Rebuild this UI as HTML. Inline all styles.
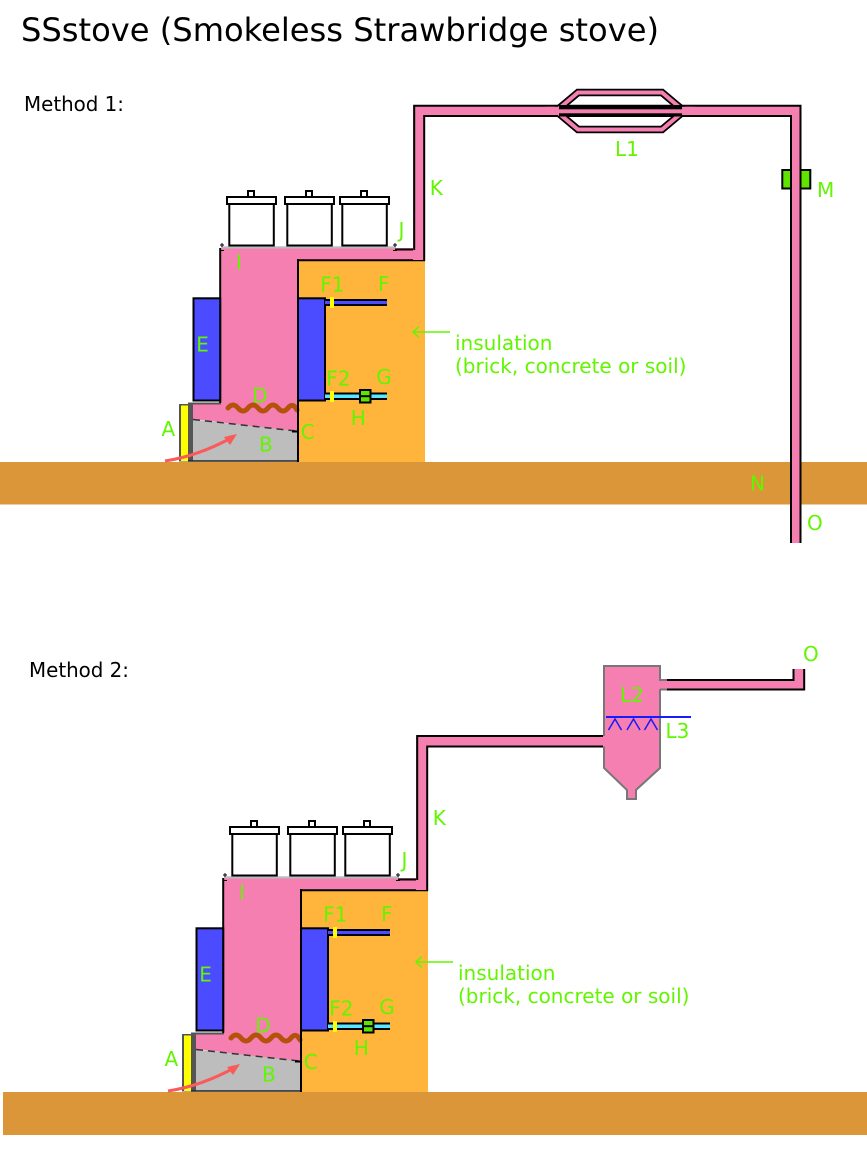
<!DOCTYPE html>
<html><head><meta charset="utf-8"><style>html,body{margin:0;padding:0;background:#fff}svg{display:block}</style></head>
<body>
<svg xmlns="http://www.w3.org/2000/svg" width="867" height="1176" viewBox="0 0 867 1176" font-family="'DejaVu Sans', 'Liberation Sans', sans-serif">
<rect width="867" height="1176" fill="#fff"/>
<text x="21" y="41" font-size="32" fill="#000" textLength="638" lengthAdjust="spacingAndGlyphs">SSstove (Smokeless Strawbridge stove)</text>
<text x="24" y="111" font-size="20" fill="#000" textLength="100" lengthAdjust="spacingAndGlyphs">Method 1:</text>
<text x="29" y="677" font-size="20" fill="#000" textLength="100" lengthAdjust="spacingAndGlyphs">Method 2:</text>

<!-- grounds -->
<rect x="0" y="462" width="867" height="42.5" fill="#dc963a"/>
<rect x="3" y="1092" width="864" height="43" fill="#dc963a"/>

<!-- ===== STOVE 1 ===== -->
<g>
<rect x="298" y="260" width="127" height="202" fill="#ffb43c"/>
<polygon fill="#f57fb0" points="220,248 415,248 415,260 298,260 298,432 193,419 193,403 220,403"/>
<polygon fill="#bdbdbd" points="193,419.5 297,431 297,461 193,461"/>
<line x1="193" y1="419.5" x2="296" y2="431" stroke="#333" stroke-width="1.5" stroke-dasharray="7 5"/>
<rect x="292" y="430.5" width="6" height="2" fill="#000"/>
<path d="M228,408 q5,-6 10,0 t10,0 t10,0 t10,0 t10,0 t10,0 t9,2" fill="none" stroke="#b4520c" stroke-width="5" stroke-linecap="round"/>
<rect x="179" y="404" width="14" height="57.5" fill="#555"/>
<rect x="181" y="405.5" width="7" height="55.5" fill="#ffff00"/>
<line x1="188" y1="403.5" x2="221" y2="403.5" stroke="#555" stroke-width="2"/>
<line x1="188" y1="461" x2="299" y2="461" stroke="#222" stroke-width="1.5"/>
<line x1="220.2" y1="248" x2="220.2" y2="403" stroke="#000" stroke-width="2"/>
<line x1="298" y1="259" x2="298" y2="462" stroke="#000" stroke-width="2"/>
<line x1="297" y1="260.2" x2="425" y2="260.2" stroke="#000" stroke-width="2"/>
<line x1="395" y1="249.5" x2="415" y2="249.5" stroke="#000" stroke-width="2"/>
<rect x="221" y="246.3" width="175" height="2.2" fill="#bbb"/>
<path d="M220,245 h4 M222,243 v4 M220,250.5 h4 M393,245 h4 M395,243 v4 M393,250.5 h4" stroke="#000" stroke-width="1"/>
<rect x="193.5" y="298.3" width="26.7" height="102.2" fill="#4b4bff" stroke="#000" stroke-width="2"/>
<rect x="298" y="298.3" width="27" height="102.2" fill="#4b4bff" stroke="#000" stroke-width="2"/>
<rect x="325" y="299" width="62" height="7" fill="#000"/><rect x="325" y="301" width="62" height="3" fill="#4b4bff"/><rect x="330" y="297" width="4" height="11" fill="#ff0"/>
<rect x="325" y="392.5" width="62" height="7.5" fill="#000"/><rect x="325" y="394.5" width="62" height="3.5" fill="#5ae6ff"/><rect x="330" y="391" width="4" height="11" fill="#ff0"/>
<rect x="360" y="390" width="10.5" height="12.5" fill="#5fe400" stroke="#000" stroke-width="2"/><line x1="360" y1="396.2" x2="370.5" y2="396.2" stroke="#000" stroke-width="2"/>
<path d="M165,461 Q198,456 231,438" fill="none" stroke="#fa5a5a" stroke-width="3"/>
<polygon points="237,434 224,437 230,445" fill="#fa5a5a"/>
<g fill="#fff" stroke="#000" stroke-width="2">
<rect x="229.3" y="204" width="44.5" height="41.5"/><rect x="227" y="197" width="49" height="7"/><rect x="248" y="191" width="6" height="6"/>
<rect x="287.3" y="204" width="44.5" height="41.5"/><rect x="285" y="197" width="49" height="7"/><rect x="306" y="191" width="6" height="6"/>
<rect x="342.3" y="204" width="44.5" height="41.5"/><rect x="340" y="197" width="49" height="7"/><rect x="361" y="191" width="6" height="6"/>
</g>
<line x1="413" y1="332" x2="450" y2="332" stroke="#62f500" stroke-width="1.5"/>
<polyline points="419,326.5 413,332 419,337.5" fill="none" stroke="#62f500" stroke-width="1.5"/>
<g font-size="20" fill="#62f500">
<text x="196.3" y="351.5">E</text>
<text x="252.3" y="402.7">D</text>
<text x="161.5" y="436">A</text>
<text x="259" y="451.7">B</text>
<text x="300.7" y="439">C</text>
<text x="326.3" y="385.7">F2</text>
<text x="376.3" y="384">G</text>
<text x="350.7" y="425">H</text>
<text x="320.3" y="291.7">F1</text>
<text x="378" y="291">F</text>
<text x="236" y="269.5">I</text>
<text x="398.5" y="237">J</text>
<text x="455" y="350">insulation</text>
<text x="455" y="373">(brick, concrete or soil)</text>
</g>
</g>

<!-- M box (under pipe) -->
<rect x="782.3" y="170" width="28" height="18.5" fill="#5fe400" stroke="#000" stroke-width="2"/>

<!-- main pipe method 1 -->
<polygon fill="#f57fb0" points="413,250 413,105.8 800.5,105.8 800.5,543 791,543 791,116 424.2,116 424.2,260 413,260"/>
<polyline fill="none" stroke="#000" stroke-width="2" points="414.2,250 414.2,105.8 800.5,105.8 800.5,543"/>
<polyline fill="none" stroke="#000" stroke-width="2" points="424.2,261 424.2,116 791,116 791,543"/>

<!-- L1 -->
<path d="M556,111 L578,92.5 L662,92.5 L684,111 L662,129.5 L578,129.5 Z" fill="none" stroke="#000" stroke-width="7.5"/>
<rect x="545" y="106.8" width="150" height="8.2" fill="#f57fb0"/>
<path d="M556,111 L578,92.5 L662,92.5 L684,111 L662,129.5 L578,129.5 Z" fill="none" stroke="#f57fb0" stroke-width="4"/>
<rect x="559" y="105" width="123" height="11.5" fill="#000"/>
<rect x="559" y="109.3" width="123" height="4" fill="#f57fb0"/>

<g font-size="20" fill="#62f500">
<text x="429.7" y="195">K</text>
<text x="817" y="197">M</text>
<text x="615" y="156">L1</text>
<text x="750" y="490.5">N</text>
<text x="807" y="530">O</text>
</g>

<!-- ===== STOVE 2 ===== -->
<g transform="translate(3,630)">
<rect x="298" y="260" width="127" height="202" fill="#ffb43c"/>
<polygon fill="#f57fb0" points="220,248 415,248 415,260 298,260 298,432 193,419 193,403 220,403"/>
<polygon fill="#bdbdbd" points="193,419.5 297,431 297,461 193,461"/>
<line x1="193" y1="419.5" x2="296" y2="431" stroke="#333" stroke-width="1.5" stroke-dasharray="7 5"/>
<rect x="292" y="430.5" width="6" height="2" fill="#000"/>
<path d="M228,408 q5,-6 10,0 t10,0 t10,0 t10,0 t10,0 t10,0 t9,2" fill="none" stroke="#b4520c" stroke-width="5" stroke-linecap="round"/>
<rect x="179" y="404" width="14" height="57.5" fill="#555"/>
<rect x="181" y="405.5" width="7" height="55.5" fill="#ffff00"/>
<line x1="188" y1="403.5" x2="221" y2="403.5" stroke="#555" stroke-width="2"/>
<line x1="188" y1="461" x2="299" y2="461" stroke="#222" stroke-width="1.5"/>
<line x1="220.2" y1="248" x2="220.2" y2="403" stroke="#000" stroke-width="2"/>
<line x1="298" y1="259" x2="298" y2="462" stroke="#000" stroke-width="2"/>
<line x1="297" y1="260.2" x2="425" y2="260.2" stroke="#000" stroke-width="2"/>
<line x1="395" y1="249.5" x2="415" y2="249.5" stroke="#000" stroke-width="2"/>
<rect x="221" y="246.3" width="175" height="2.2" fill="#bbb"/>
<path d="M220,245 h4 M222,243 v4 M220,250.5 h4 M393,245 h4 M395,243 v4 M393,250.5 h4" stroke="#000" stroke-width="1"/>
<rect x="193.5" y="298.3" width="26.7" height="102.2" fill="#4b4bff" stroke="#000" stroke-width="2"/>
<rect x="298" y="298.3" width="27" height="102.2" fill="#4b4bff" stroke="#000" stroke-width="2"/>
<rect x="325" y="299" width="62" height="7" fill="#000"/><rect x="325" y="301" width="62" height="3" fill="#4b4bff"/><rect x="330" y="297" width="4" height="11" fill="#ff0"/>
<rect x="325" y="392.5" width="62" height="7.5" fill="#000"/><rect x="325" y="394.5" width="62" height="3.5" fill="#5ae6ff"/><rect x="330" y="391" width="4" height="11" fill="#ff0"/>
<rect x="360" y="390" width="10.5" height="12.5" fill="#5fe400" stroke="#000" stroke-width="2"/><line x1="360" y1="396.2" x2="370.5" y2="396.2" stroke="#000" stroke-width="2"/>
<path d="M165,461 Q198,456 231,438" fill="none" stroke="#fa5a5a" stroke-width="3"/>
<polygon points="237,434 224,437 230,445" fill="#fa5a5a"/>
<g fill="#fff" stroke="#000" stroke-width="2">
<rect x="229.3" y="204" width="44.5" height="41.5"/><rect x="227" y="197" width="49" height="7"/><rect x="248" y="191" width="6" height="6"/>
<rect x="287.3" y="204" width="44.5" height="41.5"/><rect x="285" y="197" width="49" height="7"/><rect x="306" y="191" width="6" height="6"/>
<rect x="342.3" y="204" width="44.5" height="41.5"/><rect x="340" y="197" width="49" height="7"/><rect x="361" y="191" width="6" height="6"/>
</g>
<line x1="413" y1="332" x2="450" y2="332" stroke="#62f500" stroke-width="1.5"/>
<polyline points="419,326.5 413,332 419,337.5" fill="none" stroke="#62f500" stroke-width="1.5"/>
<g font-size="20" fill="#62f500">
<text x="196.3" y="351.5">E</text>
<text x="252.3" y="402.7">D</text>
<text x="161.5" y="436">A</text>
<text x="259" y="451.7">B</text>
<text x="300.7" y="439">C</text>
<text x="326.3" y="385.7">F2</text>
<text x="376.3" y="384">G</text>
<text x="350.7" y="425">H</text>
<text x="320.3" y="291.7">F1</text>
<text x="378" y="291">F</text>
<text x="236" y="269.5">I</text>
<text x="398.5" y="237">J</text>
<text x="455" y="350">insulation</text>
<text x="455" y="373">(brick, concrete or soil)</text>
</g>
</g>

<!-- L2 cyclone -->
<polygon points="604,666 660,666 660,768 636,790 636,799 627,799 627,790 604,768" fill="#f57fb0" stroke="#777" stroke-width="2"/>

<!-- method 2 pipe -->
<polygon fill="#f57fb0" points="416,880 416,736 606,736 606,746.5 427.2,746.5 427.2,890 416,890"/>
<polyline fill="none" stroke="#000" stroke-width="2" points="417.2,880 417.2,736 603,736"/>
<polyline fill="none" stroke="#000" stroke-width="2" points="427.2,891 427.2,746.5 603,746.5"/>

<!-- outlet pipe -->
<rect x="658" y="681" width="146" height="8" fill="#f57fb0"/>
<rect x="794" y="669" width="9.5" height="20" fill="#f57fb0"/>
<line x1="660" y1="680" x2="667" y2="680" stroke="#777" stroke-width="2"/>
<line x1="660" y1="689.5" x2="667" y2="689.5" stroke="#777" stroke-width="2"/>
<polyline fill="none" stroke="#000" stroke-width="2" points="667,680 793.5,680 793.5,669"/>
<polyline fill="none" stroke="#000" stroke-width="2" points="667,689.5 804.2,689.5 804.2,669"/>

<!-- L3 -->
<line x1="606" y1="717" x2="691" y2="717" stroke="#1a1aff" stroke-width="2"/>
<g fill="none" stroke="#1a1aff" stroke-width="1.5">
<polyline points="608.5,730 615,719 621.5,730"/>
<polyline points="627,730 633.5,719 640,730"/>
<polyline points="644.5,730 651,719 657.5,730"/>
</g>

<g font-size="20" fill="#62f500">
<text x="432.7" y="825">K</text>
<text x="620" y="702">L2</text>
<text x="665.5" y="738">L3</text>
<text x="803" y="661">O</text>
</g>
</svg>
</body></html>
